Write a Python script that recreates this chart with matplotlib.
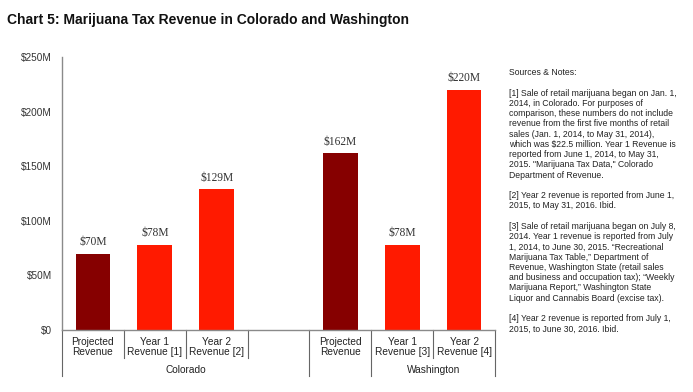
import matplotlib
matplotlib.use("Agg")
import matplotlib.pyplot as plt
import matplotlib.transforms as mtransforms

# ---- data ----
groups = ["Colorado", "Washington"]
categories = ["Projected\nRevenue", "Year 1\nRevenue [1]", "Year 2\nRevenue [2]",
              "Projected\nRevenue", "Year 1\nRevenue [3]", "Year 2\nRevenue [4]"]
bar_group = ["Colorado", "Colorado", "Colorado", "Washington", "Washington", "Washington"]
values = [70, 78, 129, 162, 78, 220]
value_labels = ["$70M", "$78M", "$129M", "$162M", "$78M", "$220M"]
kinds = ["projected", "actual", "actual", "projected", "actual", "actual"]
yticks = [0, 50, 100, 150, 200, 250]
ytick_labels = ["$0", "$50M", "$100M", "$150M", "$200M", "$250M"]
notes = ("Sources & Notes:\n\n"
         "[1] Sale of retail marijuana began on Jan. 1,\n"
         "2014, in Colorado. For purposes of\n"
         "comparison, these numbers do not include\n"
         "revenue from the first five months of retail\n"
         "sales (Jan. 1, 2014, to May 31, 2014),\n"
         "which was $22.5 million. Year 1 Revenue is\n"
         "reported from June 1, 2014, to May 31,\n"
         "2015. \"Marijuana Tax Data,\" Colorado\n"
         "Department of Revenue.\n\n"
         "[2] Year 2 revenue is reported from June 1,\n"
         "2015, to May 31, 2016. Ibid.\n\n"
         "[3] Sale of retail marijuana began on July 8,\n"
         "2014. Year 1 revenue is reported from July\n"
         "1, 2014, to June 30, 2015. \u201cRecreational\n"
         "Marijuana Tax Table,\u201d Department of\n"
         "Revenue, Washington State (retail sales\n"
         "and business and occupation tax); \u201cWeekly\n"
         "Marijuana Report,\u201d Washington State\n"
         "Liquor and Cannabis Board (excise tax).\n\n"
         "[4] Year 2 revenue is reported from July 1,\n"
         "2015, to June 30, 2016. Ibid.")

# slot layout: Colorado slots 0-2, empty slot 3, Washington slots 4-6
positions = [0, 1, 2, 4, 5, 6]
colors = {"projected": "#860000", "actual": "#ff1a00"}

W, H = 693, 392
fig = plt.figure(figsize=(W / 100, H / 100), dpi=100)
plt.rcParams["font.family"] = ["Liberation Sans", "DejaVu Sans"]

ax = fig.add_axes([62 / W, (H - 330) / H, (495 - 62) / W, (330 - 57) / H])
ax.bar(positions, values, width=0.56, color=[colors[k] for k in kinds])
ax.set_xlim(-0.5, 6.5)
ax.set_ylim(0, 250)
ax.set_yticks(yticks)
ax.set_yticklabels(ytick_labels, fontsize=7.2, color="#333333")
ax.tick_params(axis="y", length=0, pad=7)
ax.set_xticks([])
for s in ["top", "right"]:
    ax.spines[s].set_visible(False)
ax.spines["left"].set_color("#8a8a8a")
ax.spines["bottom"].set_color("#8a8a8a")
ax.spines["left"].set_linewidth(1.0)
ax.spines["bottom"].set_linewidth(1.0)

for p, v, lab in zip(positions, values, value_labels):
    ax.annotate(lab, (p, v), xytext=(0, 4), textcoords="offset points",
                ha="center", va="bottom", fontsize=8.3, family="Liberation Serif",
                color="#333333")

trans = mtransforms.blended_transform_factory(ax.transData, ax.transAxes)
ah = 330 - 57
y_short = -(358 - 330) / ah
y_long = -(376 - 330) / ah
# category labels
for p, c in zip(positions, categories):
    ax.text(p, -(347 - 330) / ah, c, transform=trans, ha="center", va="center",
            fontsize=7.3, color="#222222", linespacing=1.05)
# separators
for x in [0.5, 1.5, 2.5, 5.5]:
    ax.plot([x, x], [0, y_short], transform=trans, color="#666666", lw=0.8, clip_on=False)
for x in [-0.5, 3.5, 4.5, 6.5]:
    ax.plot([x, x], [0, y_long], transform=trans, color="#666666", lw=0.8, clip_on=False)
# group labels
ax.text(1.5, -(370 - 330) / ah, groups[0], transform=trans, ha="center", va="center",
        fontsize=7.3, color="#222222")
ax.text(5.5, -(370 - 330) / ah, groups[1], transform=trans, ha="center", va="center",
        fontsize=7.3, color="#222222")

fig.text(7 / W, 1 - 20 / H, "Chart 5: Marijuana Tax Revenue in Colorado and Washington",
         ha="left", va="center", fontsize=10, fontweight="bold", color="#111111")
fig.text(509 / W, 1 - 68 / H, notes, ha="left", va="top", fontsize=6.2,
         color="#222222", linespacing=1.18)

fig.savefig("out.png", dpi=100)
